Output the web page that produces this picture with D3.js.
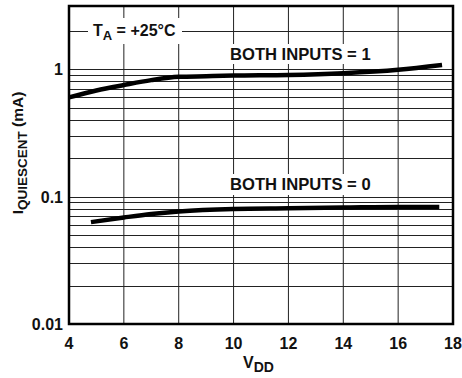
<!DOCTYPE html>
<html>
<head>
<meta charset="utf-8">
<script src="https://cdn.jsdelivr.net/npm/d3@7"></script>
<style>
  body { margin: 0; background: #fff; }
  text { font-family: "Liberation Sans", Arial, sans-serif; font-weight: bold; fill: #111; }
</style>
</head>
<body>
<div id="chart"></div>
<script>
// data
const vdd1 = [4, 5, 6, 7, 8, 9, 10, 12, 14, 16, 17.6];
const iq1 = [0.6, 0.68, 0.75, 0.82, 0.87, 0.88, 0.89, 0.9, 0.93, 0.99, 1.08];
const vdd0 = [4.8, 6, 7, 8, 10, 12, 14, 16, 17.5];
const iq0 = [0.063, 0.0685, 0.073, 0.0765, 0.080, 0.081, 0.082, 0.083, 0.083];
const xTicks = [4, 6, 8, 10, 12, 14, 16, 18];
const yTickLabels = [0.01, 0.1, 1];
const yGrid = [0.02, 0.03, 0.04, 0.05, 0.06, 0.07, 0.08, 0.09, 0.1,
               0.2, 0.3, 0.4, 0.5, 0.6, 0.7, 0.8, 0.9, 1, 2];

const W = 462, H = 378;
const margin = { top: 6, right: 9, bottom: 54, left: 69 };
const width = W - margin.left - margin.right;
const height = H - margin.top - margin.bottom;

const svg = d3.select("#chart")
    .append("svg")
        .attr("width", W)
        .attr("height", H)
    .append("g")
        .attr("transform", `translate(${margin.left}, ${margin.top})`);

const x = d3.scaleLinear().domain([4, 18]).range([0, width]);
const y = d3.scaleLog().domain([0.01, 3.13]).range([height, 0]);

// grid
svg.append("g")
    .selectAll("line")
    .data(xTicks.slice(1, -1))
    .enter()
    .append("line")
        .attr("x1", d => x(d)).attr("x2", d => x(d))
        .attr("y1", 0).attr("y2", height)
        .attr("stroke", "#222")
        .attr("stroke-width", 1);

svg.append("g")
    .selectAll("line")
    .data(yGrid)
    .enter()
    .append("line")
        .attr("x1", 0).attr("x2", width)
        .attr("y1", d => Math.round(y(d)) + 0.5).attr("y2", d => Math.round(y(d)) + 0.5)
        .attr("stroke", "#222")
        .attr("stroke-width", 1);

// frame
svg.append("rect")
    .attr("width", width)
    .attr("height", height)
    .attr("fill", "none")
    .attr("stroke", "#000")
    .attr("stroke-width", 2.5);

// tick labels
svg.append("g")
    .selectAll("text")
    .data(xTicks)
    .enter()
    .append("text")
        .attr("x", d => x(d))
        .attr("y", height + 25)
        .attr("text-anchor", "middle")
        .style("font-size", "16px")
        .text(d => d);

svg.append("g")
    .selectAll("text")
    .data(yTickLabels)
    .enter()
    .append("text")
        .attr("x", -6)
        .attr("y", d => y(d) + 6)
        .attr("text-anchor", "end")
        .style("font-size", "16px")
        .text(d => d);

// axis titles
const xt = svg.append("text")
    .attr("x", 174)
    .attr("y", height + 44)
    .style("font-size", "16px");
xt.append("tspan").text("V");
xt.append("tspan").attr("dy", 4).style("font-size", "14px").text("DD");

const yt = svg.append("text")
    .attr("transform", "rotate(-90)")
    .attr("x", -147)
    .attr("y", -46)
    .attr("text-anchor", "middle")
    .style("font-size", "15.5px");
yt.append("tspan").text("I");
yt.append("tspan").attr("dy", 4).style("font-size", "13.5px").text("QUIESCENT");
yt.append("tspan").attr("dy", -4).text(" (mA)");

// labels with white backing
function label(lx, ly, parts, bx, bw, by, bh) {
    svg.append("rect")
        .attr("x", bx).attr("y", by)
        .attr("width", bw).attr("height", bh)
        .attr("fill", "#fff");
    const t = svg.append("text")
        .attr("x", lx).attr("y", ly)
        .style("font-size", "16px");
    parts.forEach(p => {
        const s = t.append("tspan").text(p.t);
        if (p.dy) s.attr("dy", p.dy);
        if (p.fs) s.style("font-size", p.fs);
    });
    return t;
}

label(24, 30, [{ t: "T" }, { t: "A", dy: 4, fs: "13px" }, { t: " = +25°C", dy: -4 }], 19, 94, 12, 26);
label(161, 54, [{ t: "BOTH INPUTS = 1" }], 156, 150, 38, 20).style("font-size", "16.6px");
label(161, 184, [{ t: "BOTH INPUTS = 0" }], 156, 150, 168, 21).style("font-size", "16.6px");

// curves
const line = d3.line()
    .x(d => x(d[0]))
    .y(d => y(d[1]))
    .curve(d3.curveMonotoneX);

svg.append("path")
    .datum(d3.zip(vdd1, iq1))
    .attr("d", line)
    .attr("fill", "none")
    .attr("stroke", "#000")
    .attr("stroke-width", 4.5);

svg.append("path")
    .datum(d3.zip(vdd0, iq0))
    .attr("d", line)
    .attr("fill", "none")
    .attr("stroke", "#000")
    .attr("stroke-width", 4.5);
</script>
</body>
</html>
